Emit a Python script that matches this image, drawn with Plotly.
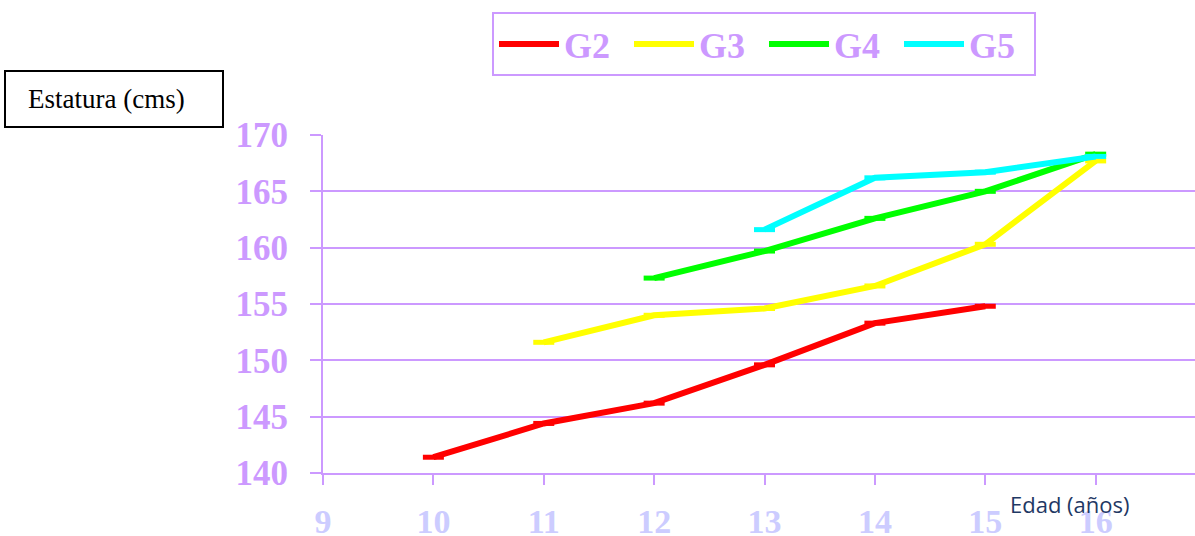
import plotly.graph_objects as go

# Data
g2_age = [10, 11, 12, 13, 14, 15]
g2_h = [141.4, 144.4, 146.2, 149.6, 153.3, 154.8]
g3_age = [11, 12, 13, 14, 15, 16]
g3_h = [151.6, 154.0, 154.6, 156.6, 160.3, 167.7]
g4_age = [12, 13, 14, 15, 16]
g4_h = [157.3, 159.7, 162.6, 165.0, 168.3]
g5_age = [13, 14, 15, 16]
g5_h = [161.6, 166.2, 166.7, 168.1]

x_ticks = [9, 10, 11, 12, 13, 14, 15, 16]
y_ticks = [140, 145, 150, 155, 160, 165, 170]

series = [
    ("G2", g2_age, g2_h, "#ff0000"),
    ("G3", g3_age, g3_h, "#ffff00"),
    ("G4", g4_age, g4_h, "#00ff00"),
    ("G5", g5_age, g5_h, "#00ffff"),
]

LAV = "#cc99ff"
LAV2 = "#ccccff"

fig = go.Figure()
for name, xs, ys, col in series:
    fig.add_trace(go.Scatter(
        x=xs, y=ys, name=name, mode="lines+markers",
        line=dict(color=col, width=6),
        marker=dict(symbol="line-ew", size=15, line=dict(color=col, width=5)),
    ))

fig.update_layout(
    width=1195, height=536,
    margin=dict(l=323, r=0, t=135, b=63),
    plot_bgcolor="white", paper_bgcolor="white",
    showlegend=True,
    legend=dict(
        orientation="h", x=(492 - 323) / 872, y=(473 - 12) / 338,
        xanchor="left", yanchor="top",
        bordercolor=LAV, borderwidth=2,
        font=dict(family="Liberation Serif", size=36, color=LAV, weight="bold"),
        itemwidth=60, entrywidth=60, tracegroupgap=0,
    ),
    xaxis=dict(
        range=[9, 16.9], tickmode="array", tickvals=x_ticks,
        showgrid=False, zeroline=False, automargin=False,
        showline=True, linecolor=LAV, linewidth=2,
        ticks="outside", ticklen=10, tickwidth=2, tickcolor=LAV,
        tickfont=dict(family="Liberation Serif", size=34, color=LAV2, weight="bold"),
        ticklabelstandoff=7,
    ),
    yaxis=dict(
        range=[140, 170], tickmode="array", tickvals=y_ticks,
        showgrid=True, gridcolor=LAV, gridwidth=2,
        zeroline=False, automargin=False,
        showline=True, linecolor=LAV, linewidth=2,
        ticks="outside", ticklen=11, tickwidth=2, tickcolor=LAV,
        tickfont=dict(family="Liberation Serif", size=35, color=LAV, weight="bold"),
        ticklabelstandoff=15,
    ),
)

# "Estatura (cms)" boxed label
fig.add_shape(type="rect", xref="paper", yref="paper",
              x0=(5 - 323) / 872, x1=(223 - 323) / 872,
              y0=(473 - 127) / 338, y1=(473 - 71) / 338,
              line=dict(color="black", width=2), fillcolor="white")
fig.add_annotation(text="Estatura (cms)", xref="paper", yref="paper",
                   x=(26 - 323) / 872, y=(473 - 99) / 338,
                   xanchor="left", yanchor="middle", showarrow=False,
                   font=dict(family="Liberation Serif", size=27, color="black"))

# x axis title
fig.add_annotation(text="Edad (años)", xref="paper", yref="paper",
                   x=(1008 - 323) / 872, y=(473 - 504) / 338,
                   xanchor="left", yanchor="middle", showarrow=False,
                   font=dict(family="Open Sans", size=22, color="#1f3864"))

fig.write_html("out.html", config={"displayModeBar": False},
               post_script="document.body.style.margin='0';document.body.style.overflow='hidden';")
